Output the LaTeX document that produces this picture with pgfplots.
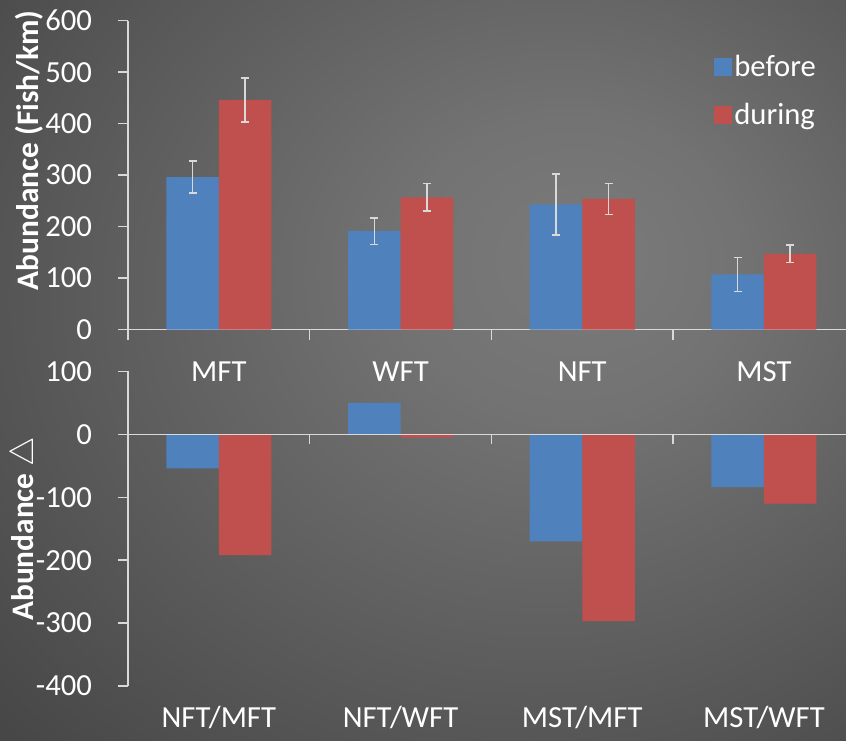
\documentclass[border=0pt]{standalone}
\usepackage{fontspec}
\setmainfont{Carlito}
\usepackage{pgfplots}
\pgfplotsset{compat=1.18}
\definecolor{cbefore}{HTML}{4F81BD}
\definecolor{cduring}{HTML}{C0504D}
\definecolor{axline}{HTML}{D9D9D9}
\definecolor{bgA}{gray}{0.48}
\definecolor{bgB}{gray}{0.45}
\definecolor{bgC}{gray}{0.20}
\pgfdeclareradialshading{bgshade}{\pgfpoint{10bp}{8bp}}{%
  color(0bp)=(bgA); color(10bp)=(bgB); color(55bp)=(bgC); color(80bp)=(bgC)}

\pgfplotsset{
  chart/.style={
    scale only axis, width=545.1pt,
    xmin=-0.5, xmax=3.5,
    axis line style={axline, line width=1.1pt, -},
    tick style={axline, line width=1.1pt},
    tick align=outside,
    major tick length=7.5pt, minor tick length=7.5pt,
    ticklabel style={text=white, font=\fontsize{23}{27}\selectfont},
    /pgf/number format/assume math mode=true,
    yticklabel style={xshift=-16pt},
    label style={text=white, font=\fontsize{23.5}{28}\selectfont\bfseries},
    ybar=0pt, bar width=39.4pt,
  },
}

\begin{document}
\begin{tikzpicture}[x=0.75pt, y=0.75pt]
\useasboundingbox (0,0) rectangle (846,741);
\shade[shading=bgshade] (0,0) rectangle (846,741);

% upper panel: abundance
\begin{axis}[chart,
  at={(96pt,308.6pt)}, anchor=south west, height=231.6pt,
  ymin=0, ymax=600, ytick={0,100,...,600},
  axis x line*=bottom, axis y line*=left,
  xtick={0,1,2,3}, xticklabels={MFT,WFT,NFT,MST},
  major x tick style={draw=none},
  minor xtick={-0.5,0.5,1.5,2.5,3.5},
  xticklabel style={yshift=-13pt},
  ylabel={Abundance (Fish/km)},
  ylabel style={at={(rel axis cs:-0.136,0.58)}, anchor=center},
  legend style={at={(rel axis cs:0.80,0.905)}, anchor=north west, draw=none, fill=none,
    text=white, font=\fontsize{23}{27}\selectfont, row sep=14pt},
  legend cell align=left,
  legend image code/.code={\fill[#1, draw=none] (-3pt,-6.75pt) rectangle (10.5pt,6.75pt);},
  error bars/error bar style={axline, line width=1.1pt},
  error bars/error mark options={rotate=90, mark size=3pt, line width=1.1pt, axline},
]
\addplot[fill=cbefore, draw=none, error bars/.cd, y dir=both, y explicit]
  coordinates {(0,296) +- (0,31) (1,191) +- (0,26) (2,243) +- (0,59) (3,107) +- (0,33)};
\addplot[fill=cduring, draw=none, error bars/.cd, y dir=both, y explicit]
  coordinates {(0,446) +- (0,43) (1,257) +- (0,27) (2,254) +- (0,30) (3,147) +- (0,17)};
\legend{before, during}
\end{axis}

% lower panel: change in abundance
\begin{axis}[chart,
  at={(96pt,41.25pt)}, anchor=south west, height=235.9pt,
  ymin=-400, ymax=100, ytick={-400,-300,...,100},
  axis x line*=bottom, axis y line*=left,
  x axis line style={draw=none},
  xtick={0,1,2,3}, xticklabels={NFT/MFT,NFT/WFT,MST/MFT,MST/WFT},
  major x tick style={draw=none},
  xticklabel style={yshift=-4pt},
  ylabel={Abundance $\triangle$},
  ylabel style={at={(rel axis cs:-0.142,0.5)}, anchor=center},
]
\addplot[fill=cbefore, draw=none] coordinates {(0,-54) (1,50) (2,-170) (3,-84)};
\addplot[fill=cduring, draw=none] coordinates {(0,-192) (1,-5) (2,-297) (3,-110)};
% zero line with its category ticks
\draw[axline, line width=1.1pt] (axis cs:-0.5,0) -- (axis cs:3.5,0);
\draw[axline, line width=1.1pt] (axis cs:0.5,0) -- ([yshift=-7.5pt]axis cs:0.5,0);
\draw[axline, line width=1.1pt] (axis cs:1.5,0) -- ([yshift=-7.5pt]axis cs:1.5,0);
\draw[axline, line width=1.1pt] (axis cs:2.5,0) -- ([yshift=-7.5pt]axis cs:2.5,0);
\end{axis}
\end{tikzpicture}
\end{document}
